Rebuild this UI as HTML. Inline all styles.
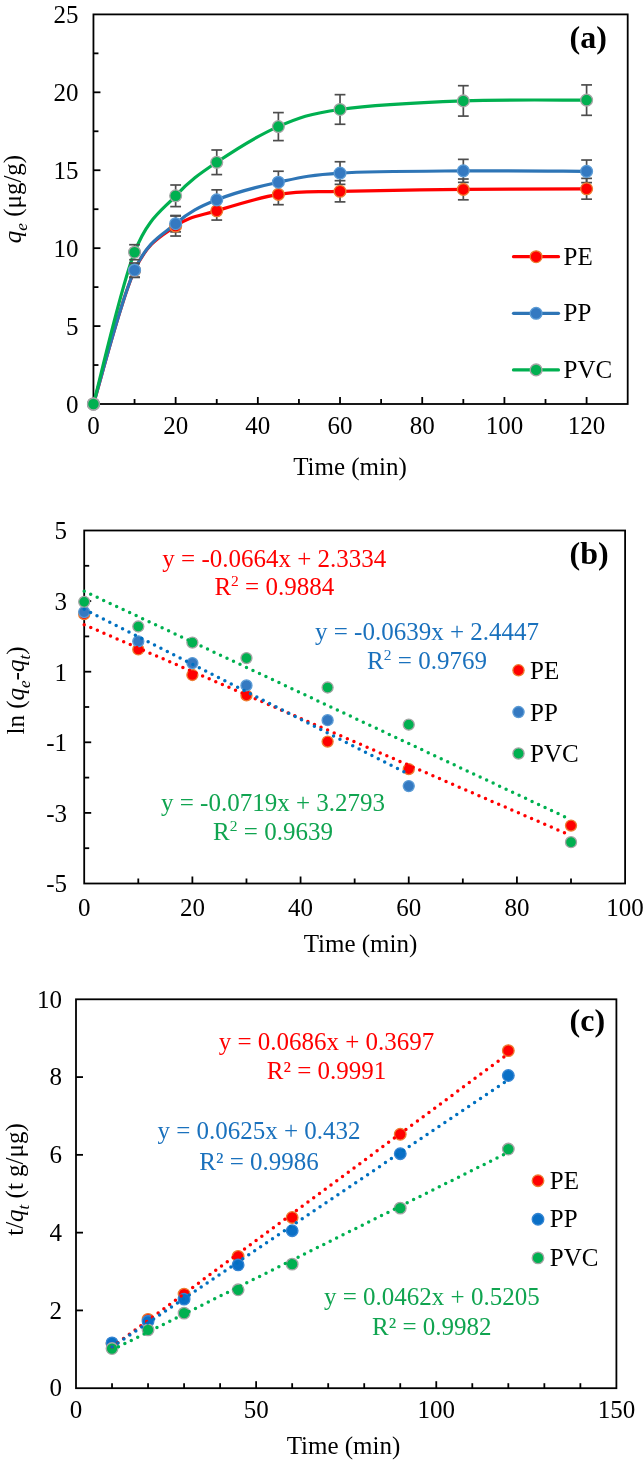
<!DOCTYPE html>
<html><head><meta charset="utf-8"><style>
html,body{margin:0;padding:0;background:#fff;}
svg{display:block;will-change:transform;}
text{font-family:"Liberation Serif", serif;}
</style></head><body>
<svg width="644" height="1460" viewBox="0 0 644 1460" font-family='"Liberation Serif", serif'>
<rect width="644" height="1460" fill="#fff"/>
<rect x="93.45" y="14.4" width="534.25" height="389.6" fill="none" stroke="#000" stroke-width="1.8"/>
<line x1="134.55" y1="404" x2="134.55" y2="399" stroke="#000" stroke-width="1.8"/>
<line x1="175.64" y1="404" x2="175.64" y2="397" stroke="#000" stroke-width="1.8"/>
<line x1="216.74" y1="404" x2="216.74" y2="399" stroke="#000" stroke-width="1.8"/>
<line x1="257.83" y1="404" x2="257.83" y2="397" stroke="#000" stroke-width="1.8"/>
<line x1="298.93" y1="404" x2="298.93" y2="399" stroke="#000" stroke-width="1.8"/>
<line x1="340.03" y1="404" x2="340.03" y2="397" stroke="#000" stroke-width="1.8"/>
<line x1="381.12" y1="404" x2="381.12" y2="399" stroke="#000" stroke-width="1.8"/>
<line x1="422.22" y1="404" x2="422.22" y2="397" stroke="#000" stroke-width="1.8"/>
<line x1="463.32" y1="404" x2="463.32" y2="399" stroke="#000" stroke-width="1.8"/>
<line x1="504.41" y1="404" x2="504.41" y2="397" stroke="#000" stroke-width="1.8"/>
<line x1="545.51" y1="404" x2="545.51" y2="399" stroke="#000" stroke-width="1.8"/>
<line x1="586.6" y1="404" x2="586.6" y2="397" stroke="#000" stroke-width="1.8"/>
<line x1="93.45" y1="365.04" x2="98.45" y2="365.04" stroke="#000" stroke-width="1.8"/>
<line x1="93.45" y1="326.08" x2="100.45" y2="326.08" stroke="#000" stroke-width="1.8"/>
<line x1="93.45" y1="287.12" x2="98.45" y2="287.12" stroke="#000" stroke-width="1.8"/>
<line x1="93.45" y1="248.16" x2="100.45" y2="248.16" stroke="#000" stroke-width="1.8"/>
<line x1="93.45" y1="209.2" x2="98.45" y2="209.2" stroke="#000" stroke-width="1.8"/>
<line x1="93.45" y1="170.24" x2="100.45" y2="170.24" stroke="#000" stroke-width="1.8"/>
<line x1="93.45" y1="131.28" x2="98.45" y2="131.28" stroke="#000" stroke-width="1.8"/>
<line x1="93.45" y1="92.32" x2="100.45" y2="92.32" stroke="#000" stroke-width="1.8"/>
<line x1="93.45" y1="53.36" x2="98.45" y2="53.36" stroke="#000" stroke-width="1.8"/>
<text x="93.45" y="434" font-size="25" text-anchor="middle" fill="#000">0</text>
<text x="175.64" y="434" font-size="25" text-anchor="middle" fill="#000">20</text>
<text x="257.83" y="434" font-size="25" text-anchor="middle" fill="#000">40</text>
<text x="340.03" y="434" font-size="25" text-anchor="middle" fill="#000">60</text>
<text x="422.22" y="434" font-size="25" text-anchor="middle" fill="#000">80</text>
<text x="504.41" y="434" font-size="25" text-anchor="middle" fill="#000">100</text>
<text x="586.6" y="434" font-size="25" text-anchor="middle" fill="#000">120</text>
<text x="78.5" y="412.6" font-size="25" text-anchor="end" fill="#000">0</text>
<text x="78.5" y="334.68" font-size="25" text-anchor="end" fill="#000">5</text>
<text x="78.5" y="256.76" font-size="25" text-anchor="end" fill="#000">10</text>
<text x="78.5" y="178.84" font-size="25" text-anchor="end" fill="#000">15</text>
<text x="78.5" y="100.92" font-size="25" text-anchor="end" fill="#000">20</text>
<text x="78.5" y="23" font-size="25" text-anchor="end" fill="#000">25</text>
<text x="569.6" y="47.5" font-size="32" text-anchor="start" fill="#000" font-weight="bold">(a)</text>
<text x="350" y="475.4" font-size="25" text-anchor="middle" fill="#000">Time (min)</text>
<text transform="translate(20.7,199) rotate(-90)" font-size="25" text-anchor="middle"><tspan font-style="italic">q</tspan><tspan font-style="italic" font-size="17" dy="6">e</tspan><tspan dy="-6"> (μg/g)</tspan></text>
<path d="M93.45,404 C100.3,381.74 120.85,300.11 134.55,270.45 C148.24,240.78 161.94,235.98 175.64,226.03 C189.34,216.08 199.62,216.03 216.74,210.76 C233.86,205.49 257.83,197.64 278.38,194.4 C298.93,191.15 309.2,192.11 340.03,191.28 C370.85,190.45 422.22,189.82 463.32,189.41 C504.41,188.99 566.06,188.89 586.6,188.78" fill="none" stroke="#FF0000" stroke-width="3.2" stroke-linejoin="round"/>
<path d="M93.45,404 C100.3,381.69 120.85,300.18 134.55,270.13 C148.24,240.08 161.94,235.41 175.64,223.69 C189.34,211.98 199.62,206.76 216.74,199.85 C233.86,192.94 257.83,186.71 278.38,182.24 C298.93,177.77 309.2,174.94 340.03,173.05 C370.85,171.15 422.22,171.15 463.32,170.86 C504.41,170.58 566.06,171.25 586.6,171.33" fill="none" stroke="#2E75B6" stroke-width="3.2" stroke-linejoin="round"/>
<path d="M93.45,404 C100.3,378.7 120.85,286.91 134.55,252.21 C148.24,217.51 161.94,210.78 175.64,195.8 C189.34,180.81 199.62,173.82 216.74,162.29 C233.86,150.76 257.83,135.41 278.38,126.6 C298.93,117.8 309.2,113.75 340.03,109.46 C370.85,105.18 422.22,102.45 463.32,100.89 C504.41,99.33 566.06,100.24 586.6,100.11" fill="none" stroke="#00B050" stroke-width="3.2" stroke-linejoin="round"/>
<line x1="134.55" y1="263.45" x2="134.55" y2="277.45" stroke="#4D4D4D" stroke-width="1.7"/>
<line x1="129.15" y1="263.45" x2="139.95" y2="263.45" stroke="#4D4D4D" stroke-width="1.7"/>
<line x1="129.15" y1="277.45" x2="139.95" y2="277.45" stroke="#4D4D4D" stroke-width="1.7"/>
<line x1="175.64" y1="216.03" x2="175.64" y2="236.03" stroke="#4D4D4D" stroke-width="1.7"/>
<line x1="170.24" y1="216.03" x2="181.04" y2="216.03" stroke="#4D4D4D" stroke-width="1.7"/>
<line x1="170.24" y1="236.03" x2="181.04" y2="236.03" stroke="#4D4D4D" stroke-width="1.7"/>
<line x1="216.74" y1="201.46" x2="216.74" y2="220.06" stroke="#4D4D4D" stroke-width="1.7"/>
<line x1="211.34" y1="201.46" x2="222.14" y2="201.46" stroke="#4D4D4D" stroke-width="1.7"/>
<line x1="211.34" y1="220.06" x2="222.14" y2="220.06" stroke="#4D4D4D" stroke-width="1.7"/>
<line x1="278.38" y1="184.1" x2="278.38" y2="204.7" stroke="#4D4D4D" stroke-width="1.7"/>
<line x1="272.98" y1="184.1" x2="283.78" y2="184.1" stroke="#4D4D4D" stroke-width="1.7"/>
<line x1="272.98" y1="204.7" x2="283.78" y2="204.7" stroke="#4D4D4D" stroke-width="1.7"/>
<line x1="340.03" y1="180.68" x2="340.03" y2="201.88" stroke="#4D4D4D" stroke-width="1.7"/>
<line x1="334.63" y1="180.68" x2="345.43" y2="180.68" stroke="#4D4D4D" stroke-width="1.7"/>
<line x1="334.63" y1="201.88" x2="345.43" y2="201.88" stroke="#4D4D4D" stroke-width="1.7"/>
<line x1="463.32" y1="179.01" x2="463.32" y2="199.81" stroke="#4D4D4D" stroke-width="1.7"/>
<line x1="457.92" y1="179.01" x2="468.72" y2="179.01" stroke="#4D4D4D" stroke-width="1.7"/>
<line x1="457.92" y1="199.81" x2="468.72" y2="199.81" stroke="#4D4D4D" stroke-width="1.7"/>
<line x1="586.6" y1="178.38" x2="586.6" y2="199.18" stroke="#4D4D4D" stroke-width="1.7"/>
<line x1="581.2" y1="178.38" x2="592" y2="178.38" stroke="#4D4D4D" stroke-width="1.7"/>
<line x1="581.2" y1="199.18" x2="592" y2="199.18" stroke="#4D4D4D" stroke-width="1.7"/>
<line x1="134.55" y1="263.13" x2="134.55" y2="277.13" stroke="#4D4D4D" stroke-width="1.7"/>
<line x1="129.15" y1="263.13" x2="139.95" y2="263.13" stroke="#4D4D4D" stroke-width="1.7"/>
<line x1="129.15" y1="277.13" x2="139.95" y2="277.13" stroke="#4D4D4D" stroke-width="1.7"/>
<line x1="175.64" y1="215.49" x2="175.64" y2="231.89" stroke="#4D4D4D" stroke-width="1.7"/>
<line x1="170.24" y1="215.49" x2="181.04" y2="215.49" stroke="#4D4D4D" stroke-width="1.7"/>
<line x1="170.24" y1="231.89" x2="181.04" y2="231.89" stroke="#4D4D4D" stroke-width="1.7"/>
<line x1="216.74" y1="189.85" x2="216.74" y2="209.85" stroke="#4D4D4D" stroke-width="1.7"/>
<line x1="211.34" y1="189.85" x2="222.14" y2="189.85" stroke="#4D4D4D" stroke-width="1.7"/>
<line x1="211.34" y1="209.85" x2="222.14" y2="209.85" stroke="#4D4D4D" stroke-width="1.7"/>
<line x1="278.38" y1="171.24" x2="278.38" y2="193.24" stroke="#4D4D4D" stroke-width="1.7"/>
<line x1="272.98" y1="171.24" x2="283.78" y2="171.24" stroke="#4D4D4D" stroke-width="1.7"/>
<line x1="272.98" y1="193.24" x2="283.78" y2="193.24" stroke="#4D4D4D" stroke-width="1.7"/>
<line x1="340.03" y1="161.75" x2="340.03" y2="184.35" stroke="#4D4D4D" stroke-width="1.7"/>
<line x1="334.63" y1="161.75" x2="345.43" y2="161.75" stroke="#4D4D4D" stroke-width="1.7"/>
<line x1="334.63" y1="184.35" x2="345.43" y2="184.35" stroke="#4D4D4D" stroke-width="1.7"/>
<line x1="463.32" y1="159.36" x2="463.32" y2="182.36" stroke="#4D4D4D" stroke-width="1.7"/>
<line x1="457.92" y1="159.36" x2="468.72" y2="159.36" stroke="#4D4D4D" stroke-width="1.7"/>
<line x1="457.92" y1="182.36" x2="468.72" y2="182.36" stroke="#4D4D4D" stroke-width="1.7"/>
<line x1="586.6" y1="160.03" x2="586.6" y2="182.63" stroke="#4D4D4D" stroke-width="1.7"/>
<line x1="581.2" y1="160.03" x2="592" y2="160.03" stroke="#4D4D4D" stroke-width="1.7"/>
<line x1="581.2" y1="182.63" x2="592" y2="182.63" stroke="#4D4D4D" stroke-width="1.7"/>
<line x1="134.55" y1="244.71" x2="134.55" y2="259.71" stroke="#4D4D4D" stroke-width="1.7"/>
<line x1="129.15" y1="244.71" x2="139.95" y2="244.71" stroke="#4D4D4D" stroke-width="1.7"/>
<line x1="129.15" y1="259.71" x2="139.95" y2="259.71" stroke="#4D4D4D" stroke-width="1.7"/>
<line x1="175.64" y1="185" x2="175.64" y2="206.6" stroke="#4D4D4D" stroke-width="1.7"/>
<line x1="170.24" y1="185" x2="181.04" y2="185" stroke="#4D4D4D" stroke-width="1.7"/>
<line x1="170.24" y1="206.6" x2="181.04" y2="206.6" stroke="#4D4D4D" stroke-width="1.7"/>
<line x1="216.74" y1="149.99" x2="216.74" y2="174.59" stroke="#4D4D4D" stroke-width="1.7"/>
<line x1="211.34" y1="149.99" x2="222.14" y2="149.99" stroke="#4D4D4D" stroke-width="1.7"/>
<line x1="211.34" y1="174.59" x2="222.14" y2="174.59" stroke="#4D4D4D" stroke-width="1.7"/>
<line x1="278.38" y1="112.6" x2="278.38" y2="140.6" stroke="#4D4D4D" stroke-width="1.7"/>
<line x1="272.98" y1="112.6" x2="283.78" y2="112.6" stroke="#4D4D4D" stroke-width="1.7"/>
<line x1="272.98" y1="140.6" x2="283.78" y2="140.6" stroke="#4D4D4D" stroke-width="1.7"/>
<line x1="340.03" y1="94.66" x2="340.03" y2="124.26" stroke="#4D4D4D" stroke-width="1.7"/>
<line x1="334.63" y1="94.66" x2="345.43" y2="94.66" stroke="#4D4D4D" stroke-width="1.7"/>
<line x1="334.63" y1="124.26" x2="345.43" y2="124.26" stroke="#4D4D4D" stroke-width="1.7"/>
<line x1="463.32" y1="85.69" x2="463.32" y2="116.09" stroke="#4D4D4D" stroke-width="1.7"/>
<line x1="457.92" y1="85.69" x2="468.72" y2="85.69" stroke="#4D4D4D" stroke-width="1.7"/>
<line x1="457.92" y1="116.09" x2="468.72" y2="116.09" stroke="#4D4D4D" stroke-width="1.7"/>
<line x1="586.6" y1="84.91" x2="586.6" y2="115.31" stroke="#4D4D4D" stroke-width="1.7"/>
<line x1="581.2" y1="84.91" x2="592" y2="84.91" stroke="#4D4D4D" stroke-width="1.7"/>
<line x1="581.2" y1="115.31" x2="592" y2="115.31" stroke="#4D4D4D" stroke-width="1.7"/>
<circle cx="93.45" cy="404" r="5.9" fill="#FF0000" stroke="#ED7D31" stroke-width="1.3"/>
<circle cx="134.55" cy="270.45" r="5.9" fill="#FF0000" stroke="#ED7D31" stroke-width="1.3"/>
<circle cx="175.64" cy="226.03" r="5.9" fill="#FF0000" stroke="#ED7D31" stroke-width="1.3"/>
<circle cx="216.74" cy="210.76" r="5.9" fill="#FF0000" stroke="#ED7D31" stroke-width="1.3"/>
<circle cx="278.38" cy="194.4" r="5.9" fill="#FF0000" stroke="#ED7D31" stroke-width="1.3"/>
<circle cx="340.03" cy="191.28" r="5.9" fill="#FF0000" stroke="#ED7D31" stroke-width="1.3"/>
<circle cx="463.32" cy="189.41" r="5.9" fill="#FF0000" stroke="#ED7D31" stroke-width="1.3"/>
<circle cx="586.6" cy="188.78" r="5.9" fill="#FF0000" stroke="#ED7D31" stroke-width="1.3"/>
<circle cx="93.45" cy="404" r="5.9" fill="#3479C1" stroke="#5B9BD5" stroke-width="1.3"/>
<circle cx="134.55" cy="270.13" r="5.9" fill="#3479C1" stroke="#5B9BD5" stroke-width="1.3"/>
<circle cx="175.64" cy="223.69" r="5.9" fill="#3479C1" stroke="#5B9BD5" stroke-width="1.3"/>
<circle cx="216.74" cy="199.85" r="5.9" fill="#3479C1" stroke="#5B9BD5" stroke-width="1.3"/>
<circle cx="278.38" cy="182.24" r="5.9" fill="#3479C1" stroke="#5B9BD5" stroke-width="1.3"/>
<circle cx="340.03" cy="173.05" r="5.9" fill="#3479C1" stroke="#5B9BD5" stroke-width="1.3"/>
<circle cx="463.32" cy="170.86" r="5.9" fill="#3479C1" stroke="#5B9BD5" stroke-width="1.3"/>
<circle cx="586.6" cy="171.33" r="5.9" fill="#3479C1" stroke="#5B9BD5" stroke-width="1.3"/>
<circle cx="93.45" cy="404" r="5.9" fill="#00B050" stroke="#A5A5A5" stroke-width="1.3"/>
<circle cx="134.55" cy="252.21" r="5.9" fill="#00B050" stroke="#A5A5A5" stroke-width="1.3"/>
<circle cx="175.64" cy="195.8" r="5.9" fill="#00B050" stroke="#A5A5A5" stroke-width="1.3"/>
<circle cx="216.74" cy="162.29" r="5.9" fill="#00B050" stroke="#A5A5A5" stroke-width="1.3"/>
<circle cx="278.38" cy="126.6" r="5.9" fill="#00B050" stroke="#A5A5A5" stroke-width="1.3"/>
<circle cx="340.03" cy="109.46" r="5.9" fill="#00B050" stroke="#A5A5A5" stroke-width="1.3"/>
<circle cx="463.32" cy="100.89" r="5.9" fill="#00B050" stroke="#A5A5A5" stroke-width="1.3"/>
<circle cx="586.6" cy="100.11" r="5.9" fill="#00B050" stroke="#A5A5A5" stroke-width="1.3"/>
<line x1="513.5" y1="256.7" x2="558.5" y2="256.7" stroke="#FF0000" stroke-width="3.2" stroke-linecap="round"/>
<circle cx="536.1" cy="256.7" r="5.9" fill="#FF0000" stroke="#ED7D31" stroke-width="1.3"/>
<text x="563.5" y="264.7" font-size="25" text-anchor="start" fill="#000">PE</text>
<line x1="513.5" y1="313.3" x2="558.5" y2="313.3" stroke="#2E75B6" stroke-width="3.2" stroke-linecap="round"/>
<circle cx="536.1" cy="313.3" r="5.9" fill="#3479C1" stroke="#5B9BD5" stroke-width="1.3"/>
<text x="563.5" y="321.3" font-size="25" text-anchor="start" fill="#000">PP</text>
<line x1="513.5" y1="369.9" x2="558.5" y2="369.9" stroke="#00B050" stroke-width="3.2" stroke-linecap="round"/>
<circle cx="536.1" cy="369.9" r="5.9" fill="#00B050" stroke="#A5A5A5" stroke-width="1.3"/>
<text x="563.5" y="377.9" font-size="25" text-anchor="start" fill="#000">PVC</text>
<rect x="84.2" y="530.5" width="540.9" height="353" fill="none" stroke="#000" stroke-width="1.8"/>
<line x1="138.29" y1="883.5" x2="138.29" y2="878.5" stroke="#000" stroke-width="1.8"/>
<line x1="192.38" y1="883.5" x2="192.38" y2="876.5" stroke="#000" stroke-width="1.8"/>
<line x1="246.47" y1="883.5" x2="246.47" y2="878.5" stroke="#000" stroke-width="1.8"/>
<line x1="300.56" y1="883.5" x2="300.56" y2="876.5" stroke="#000" stroke-width="1.8"/>
<line x1="354.65" y1="883.5" x2="354.65" y2="878.5" stroke="#000" stroke-width="1.8"/>
<line x1="408.74" y1="883.5" x2="408.74" y2="876.5" stroke="#000" stroke-width="1.8"/>
<line x1="462.83" y1="883.5" x2="462.83" y2="878.5" stroke="#000" stroke-width="1.8"/>
<line x1="516.92" y1="883.5" x2="516.92" y2="876.5" stroke="#000" stroke-width="1.8"/>
<line x1="571.01" y1="883.5" x2="571.01" y2="878.5" stroke="#000" stroke-width="1.8"/>
<line x1="84.2" y1="848.2" x2="89.2" y2="848.2" stroke="#000" stroke-width="1.8"/>
<line x1="84.2" y1="812.9" x2="91.2" y2="812.9" stroke="#000" stroke-width="1.8"/>
<line x1="84.2" y1="777.6" x2="89.2" y2="777.6" stroke="#000" stroke-width="1.8"/>
<line x1="84.2" y1="742.3" x2="91.2" y2="742.3" stroke="#000" stroke-width="1.8"/>
<line x1="84.2" y1="707" x2="89.2" y2="707" stroke="#000" stroke-width="1.8"/>
<line x1="84.2" y1="671.7" x2="91.2" y2="671.7" stroke="#000" stroke-width="1.8"/>
<line x1="84.2" y1="636.4" x2="89.2" y2="636.4" stroke="#000" stroke-width="1.8"/>
<line x1="84.2" y1="601.1" x2="91.2" y2="601.1" stroke="#000" stroke-width="1.8"/>
<line x1="84.2" y1="565.8" x2="89.2" y2="565.8" stroke="#000" stroke-width="1.8"/>
<text x="84.2" y="916" font-size="25" text-anchor="middle" fill="#000">0</text>
<text x="192.38" y="916" font-size="25" text-anchor="middle" fill="#000">20</text>
<text x="300.56" y="916" font-size="25" text-anchor="middle" fill="#000">40</text>
<text x="408.74" y="916" font-size="25" text-anchor="middle" fill="#000">60</text>
<text x="516.92" y="916" font-size="25" text-anchor="middle" fill="#000">80</text>
<text x="625.1" y="916" font-size="25" text-anchor="middle" fill="#000">100</text>
<text x="67" y="539.3" font-size="25" text-anchor="end" fill="#000">5</text>
<text x="67" y="609.9" font-size="25" text-anchor="end" fill="#000">3</text>
<text x="67" y="680.5" font-size="25" text-anchor="end" fill="#000">1</text>
<text x="67" y="751.1" font-size="25" text-anchor="end" fill="#000">-1</text>
<text x="67" y="821.7" font-size="25" text-anchor="end" fill="#000">-3</text>
<text x="67" y="892.3" font-size="25" text-anchor="end" fill="#000">-5</text>
<text x="569.6" y="564.1" font-size="32" text-anchor="start" fill="#000" font-weight="bold">(b)</text>
<text x="360.5" y="951.6" font-size="25" text-anchor="middle" fill="#000">Time (min)</text>
<text transform="translate(24,690.5) rotate(-90)" font-size="25" text-anchor="middle">ln (<tspan font-style="italic">q</tspan><tspan font-style="italic" font-size="17" dy="6">e</tspan><tspan dy="-6">-</tspan><tspan font-style="italic">q</tspan><tspan font-style="italic" font-size="17" dy="6">t</tspan><tspan dy="-6">)</tspan></text>
<circle cx="84.2" cy="614.16" r="5.5" fill="#FF0000" stroke="#ED7D31" stroke-width="1.3"/>
<circle cx="138.29" cy="649.46" r="5.5" fill="#FF0000" stroke="#ED7D31" stroke-width="1.3"/>
<circle cx="192.38" cy="675.02" r="5.5" fill="#FF0000" stroke="#ED7D31" stroke-width="1.3"/>
<circle cx="246.47" cy="695.39" r="5.5" fill="#FF0000" stroke="#ED7D31" stroke-width="1.3"/>
<circle cx="327.61" cy="741.59" r="5.5" fill="#FF0000" stroke="#ED7D31" stroke-width="1.3"/>
<circle cx="408.74" cy="769.13" r="5.5" fill="#FF0000" stroke="#ED7D31" stroke-width="1.3"/>
<circle cx="571.01" cy="825.61" r="5.5" fill="#FF0000" stroke="#ED7D31" stroke-width="1.3"/>
<circle cx="84.2" cy="612.04" r="5.5" fill="#3479C1" stroke="#5B9BD5" stroke-width="1.3"/>
<circle cx="138.29" cy="641.34" r="5.5" fill="#3479C1" stroke="#5B9BD5" stroke-width="1.3"/>
<circle cx="192.38" cy="663.09" r="5.5" fill="#3479C1" stroke="#5B9BD5" stroke-width="1.3"/>
<circle cx="246.47" cy="685.4" r="5.5" fill="#3479C1" stroke="#5B9BD5" stroke-width="1.3"/>
<circle cx="327.61" cy="720.2" r="5.5" fill="#3479C1" stroke="#5B9BD5" stroke-width="1.3"/>
<circle cx="408.74" cy="786.07" r="5.5" fill="#3479C1" stroke="#5B9BD5" stroke-width="1.3"/>
<circle cx="84.2" cy="601.81" r="5.5" fill="#00B050" stroke="#A5A5A5" stroke-width="1.3"/>
<circle cx="138.29" cy="626.52" r="5.5" fill="#00B050" stroke="#A5A5A5" stroke-width="1.3"/>
<circle cx="192.38" cy="642.61" r="5.5" fill="#00B050" stroke="#A5A5A5" stroke-width="1.3"/>
<circle cx="246.47" cy="658.11" r="5.5" fill="#00B050" stroke="#A5A5A5" stroke-width="1.3"/>
<circle cx="327.61" cy="687.51" r="5.5" fill="#00B050" stroke="#A5A5A5" stroke-width="1.3"/>
<circle cx="408.74" cy="724.65" r="5.5" fill="#00B050" stroke="#A5A5A5" stroke-width="1.3"/>
<circle cx="571.01" cy="842.2" r="5.5" fill="#00B050" stroke="#A5A5A5" stroke-width="1.3"/>
<line x1="84.2" y1="624.63" x2="571.01" y2="835.58" stroke="#FF0000" stroke-width="3.5" stroke-linecap="round" stroke-dasharray="0 7.17"/>
<line x1="84.2" y1="609.36" x2="408.74" y2="774.14" stroke="#0070C0" stroke-width="3.5" stroke-linecap="round" stroke-dasharray="0 7.17"/>
<line x1="84.2" y1="591.24" x2="571.01" y2="819.67" stroke="#00B050" stroke-width="3.5" stroke-linecap="round" stroke-dasharray="0 7.17"/>
<circle cx="518.5" cy="670.3" r="5.6" fill="#FF0000" stroke="#ED7D31" stroke-width="1.3"/>
<text x="530" y="678.8" font-size="25" text-anchor="start" fill="#000">PE</text>
<circle cx="518.5" cy="712.1" r="5.6" fill="#3479C1" stroke="#5B9BD5" stroke-width="1.3"/>
<text x="530" y="720.6" font-size="25" text-anchor="start" fill="#000">PP</text>
<circle cx="518.5" cy="753.5" r="5.6" fill="#00B050" stroke="#A5A5A5" stroke-width="1.3"/>
<text x="530" y="762" font-size="25" text-anchor="start" fill="#000">PVC</text>
<text x="274.3" y="566.9" font-size="25" text-anchor="middle" fill="#FF0000">y = -0.0664x + 2.3334</text>
<text x="274.3" y="595" font-size="25" text-anchor="middle" fill="#FF0000">R<tspan font-size="15.5" dy="-9">2</tspan><tspan dy="9"> = 0.9884</tspan></text>
<text x="427" y="640.3" font-size="25" text-anchor="middle" fill="#1A71BD">y = -0.0639x + 2.4447</text>
<text x="427" y="669.3" font-size="25" text-anchor="middle" fill="#1A71BD">R<tspan font-size="15.5" dy="-9">2</tspan><tspan dy="9"> = 0.9769</tspan></text>
<text x="273" y="810.7" font-size="25" text-anchor="middle" fill="#10A450">y = -0.0719x + 3.2793</text>
<text x="273" y="840" font-size="25" text-anchor="middle" fill="#10A450">R<tspan font-size="15.5" dy="-9">2</tspan><tspan dy="9"> = 0.9639</tspan></text>
<rect x="76" y="999.3" width="540.4" height="388.9" fill="none" stroke="#000" stroke-width="1.8"/>
<line x1="112.03" y1="1388.2" x2="112.03" y2="1383.2" stroke="#000" stroke-width="1.8"/>
<line x1="148.05" y1="1388.2" x2="148.05" y2="1383.2" stroke="#000" stroke-width="1.8"/>
<line x1="184.08" y1="1388.2" x2="184.08" y2="1383.2" stroke="#000" stroke-width="1.8"/>
<line x1="220.11" y1="1388.2" x2="220.11" y2="1383.2" stroke="#000" stroke-width="1.8"/>
<line x1="256.13" y1="1388.2" x2="256.13" y2="1381.2" stroke="#000" stroke-width="1.8"/>
<line x1="292.16" y1="1388.2" x2="292.16" y2="1383.2" stroke="#000" stroke-width="1.8"/>
<line x1="328.19" y1="1388.2" x2="328.19" y2="1383.2" stroke="#000" stroke-width="1.8"/>
<line x1="364.21" y1="1388.2" x2="364.21" y2="1383.2" stroke="#000" stroke-width="1.8"/>
<line x1="400.24" y1="1388.2" x2="400.24" y2="1383.2" stroke="#000" stroke-width="1.8"/>
<line x1="436.27" y1="1388.2" x2="436.27" y2="1381.2" stroke="#000" stroke-width="1.8"/>
<line x1="472.29" y1="1388.2" x2="472.29" y2="1383.2" stroke="#000" stroke-width="1.8"/>
<line x1="508.32" y1="1388.2" x2="508.32" y2="1383.2" stroke="#000" stroke-width="1.8"/>
<line x1="544.35" y1="1388.2" x2="544.35" y2="1383.2" stroke="#000" stroke-width="1.8"/>
<line x1="580.37" y1="1388.2" x2="580.37" y2="1383.2" stroke="#000" stroke-width="1.8"/>
<line x1="76" y1="1310.42" x2="83" y2="1310.42" stroke="#000" stroke-width="1.8"/>
<line x1="76" y1="1232.64" x2="83" y2="1232.64" stroke="#000" stroke-width="1.8"/>
<line x1="76" y1="1154.86" x2="83" y2="1154.86" stroke="#000" stroke-width="1.8"/>
<line x1="76" y1="1077.08" x2="83" y2="1077.08" stroke="#000" stroke-width="1.8"/>
<text x="76" y="1418" font-size="25" text-anchor="middle" fill="#000">0</text>
<text x="256.13" y="1418" font-size="25" text-anchor="middle" fill="#000">50</text>
<text x="436.27" y="1418" font-size="25" text-anchor="middle" fill="#000">100</text>
<text x="616.4" y="1418" font-size="25" text-anchor="middle" fill="#000">150</text>
<text x="62" y="1396.4" font-size="25" text-anchor="end" fill="#000">0</text>
<text x="62" y="1318.62" font-size="25" text-anchor="end" fill="#000">2</text>
<text x="62" y="1240.84" font-size="25" text-anchor="end" fill="#000">4</text>
<text x="62" y="1163.06" font-size="25" text-anchor="end" fill="#000">6</text>
<text x="62" y="1085.28" font-size="25" text-anchor="end" fill="#000">8</text>
<text x="62" y="1007.5" font-size="25" text-anchor="end" fill="#000">10</text>
<text x="569.6" y="1031.3" font-size="32" text-anchor="start" fill="#000" font-weight="bold">(c)</text>
<text x="343.5" y="1454.1" font-size="25" text-anchor="middle" fill="#000">Time (min)</text>
<text transform="translate(22.8,1179.5) rotate(-90)" font-size="25" text-anchor="middle">t/<tspan font-style="italic">q</tspan><tspan font-style="italic" font-size="17" dy="6">t</tspan><tspan dy="-6"> (t g/μg)</tspan></text>
<circle cx="112.03" cy="1343.48" r="5.8" fill="#FF0000" stroke="#ED7D31" stroke-width="1.3"/>
<circle cx="148.05" cy="1319.36" r="5.8" fill="#FF0000" stroke="#ED7D31" stroke-width="1.3"/>
<circle cx="184.08" cy="1294.09" r="5.8" fill="#FF0000" stroke="#ED7D31" stroke-width="1.3"/>
<circle cx="238.12" cy="1256.36" r="5.8" fill="#FF0000" stroke="#ED7D31" stroke-width="1.3"/>
<circle cx="292.16" cy="1217.47" r="5.8" fill="#FF0000" stroke="#ED7D31" stroke-width="1.3"/>
<circle cx="400.24" cy="1134.25" r="5.8" fill="#FF0000" stroke="#ED7D31" stroke-width="1.3"/>
<circle cx="508.32" cy="1050.63" r="5.8" fill="#FF0000" stroke="#ED7D31" stroke-width="1.3"/>
<circle cx="112.03" cy="1342.89" r="5.8" fill="#0A6FC6" stroke="#3585D3" stroke-width="1.3"/>
<circle cx="148.05" cy="1321.31" r="5.8" fill="#0A6FC6" stroke="#3585D3" stroke-width="1.3"/>
<circle cx="184.08" cy="1299.14" r="5.8" fill="#0A6FC6" stroke="#3585D3" stroke-width="1.3"/>
<circle cx="238.12" cy="1264.92" r="5.8" fill="#0A6FC6" stroke="#3585D3" stroke-width="1.3"/>
<circle cx="292.16" cy="1230.7" r="5.8" fill="#0A6FC6" stroke="#3585D3" stroke-width="1.3"/>
<circle cx="400.24" cy="1153.69" r="5.8" fill="#0A6FC6" stroke="#3585D3" stroke-width="1.3"/>
<circle cx="508.32" cy="1075.52" r="5.8" fill="#0A6FC6" stroke="#3585D3" stroke-width="1.3"/>
<circle cx="112.03" cy="1348.53" r="5.8" fill="#00B050" stroke="#A5A5A5" stroke-width="1.3"/>
<circle cx="148.05" cy="1329.87" r="5.8" fill="#00B050" stroke="#A5A5A5" stroke-width="1.3"/>
<circle cx="184.08" cy="1313.14" r="5.8" fill="#00B050" stroke="#A5A5A5" stroke-width="1.3"/>
<circle cx="238.12" cy="1289.81" r="5.8" fill="#00B050" stroke="#A5A5A5" stroke-width="1.3"/>
<circle cx="292.16" cy="1264.14" r="5.8" fill="#00B050" stroke="#A5A5A5" stroke-width="1.3"/>
<circle cx="400.24" cy="1208.14" r="5.8" fill="#00B050" stroke="#A5A5A5" stroke-width="1.3"/>
<circle cx="508.32" cy="1149.03" r="5.8" fill="#00B050" stroke="#A5A5A5" stroke-width="1.3"/>
<line x1="112.03" y1="1347.14" x2="508.32" y2="1053.68" stroke="#FF0000" stroke-width="3.5" stroke-linecap="round" stroke-dasharray="0 7.17"/>
<line x1="112.03" y1="1347.09" x2="508.32" y2="1079.72" stroke="#0070C0" stroke-width="3.5" stroke-linecap="round" stroke-dasharray="0 7.17"/>
<line x1="112.03" y1="1349.99" x2="508.32" y2="1152.35" stroke="#00B050" stroke-width="3.5" stroke-linecap="round" stroke-dasharray="0 7.17"/>
<circle cx="538" cy="1180.7" r="5.8" fill="#FF0000" stroke="#ED7D31" stroke-width="1.3"/>
<text x="549.8" y="1188.7" font-size="25" text-anchor="start" fill="#000">PE</text>
<circle cx="538" cy="1219.3" r="5.8" fill="#0A6FC6" stroke="#3585D3" stroke-width="1.3"/>
<text x="549.8" y="1227.3" font-size="25" text-anchor="start" fill="#000">PP</text>
<circle cx="538" cy="1257.9" r="5.8" fill="#00B050" stroke="#A5A5A5" stroke-width="1.3"/>
<text x="549.8" y="1265.9" font-size="25" text-anchor="start" fill="#000">PVC</text>
<text x="326.5" y="1050" font-size="25" text-anchor="middle" fill="#FF0000">y = 0.0686x + 0.3697</text>
<text x="326.5" y="1078.5" font-size="25" text-anchor="middle" fill="#FF0000">R² = 0.9991</text>
<text x="259" y="1138.6" font-size="25" text-anchor="middle" fill="#1A71BD">y = 0.0625x + 0.432</text>
<text x="259" y="1169.5" font-size="25" text-anchor="middle" fill="#1A71BD">R² = 0.9986</text>
<text x="431.8" y="1305.4" font-size="25" text-anchor="middle" fill="#10A450">y = 0.0462x + 0.5205</text>
<text x="431.8" y="1335" font-size="25" text-anchor="middle" fill="#10A450">R² = 0.9982</text>
</svg></body></html>
